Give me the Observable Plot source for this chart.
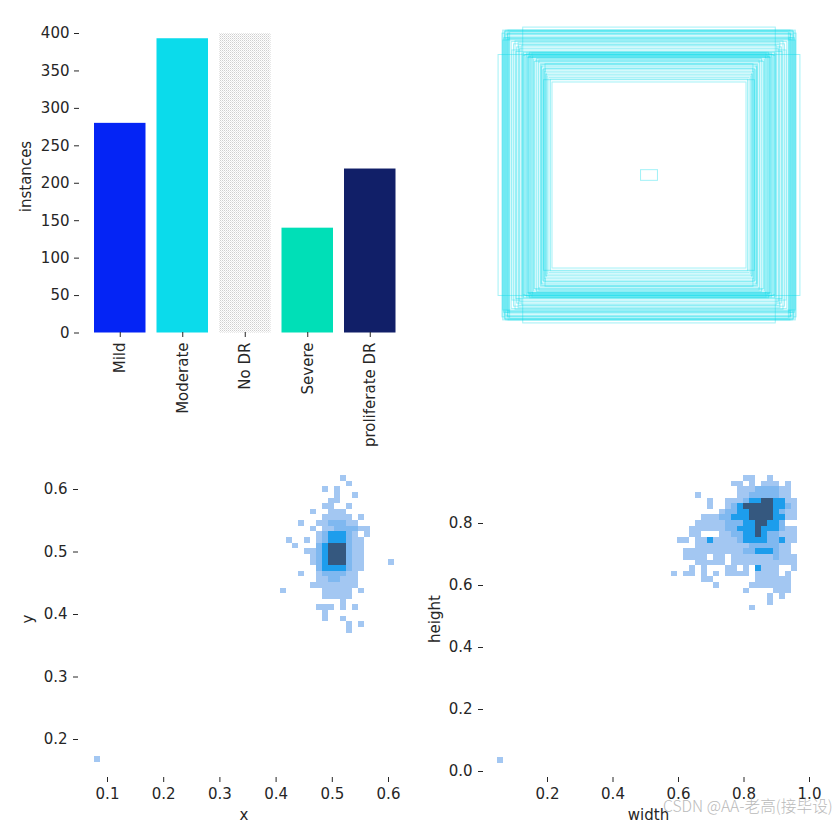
<!DOCTYPE html>
<html>
<head>
<meta charset="utf-8">
<script src="https://cdn.jsdelivr.net/npm/d3@7"></script>
<script src="https://cdn.jsdelivr.net/npm/@observablehq/plot@0.6"></script>
<style>
  html, body { margin: 0; padding: 0; background: #fff; }
  #page { position: relative; width: 840px; height: 822px; overflow: hidden; }
  #page > svg, #page > figure { position: absolute; margin: 0; }
  #mark { position: absolute; z-index: 5; left: 663px; top: 794px; font: 300 15.7px "Noto Sans CJK SC", "DejaVu Sans", sans-serif; color: #bababa; white-space: nowrap; }
</style>
</head>
<body>
<div id="page"><div id="mark">CSDN @AA-老高(接毕设)</div></div>
<script>
// ---- class counts
const classes = ["Mild", "Moderate", "No DR", "Severe", "proliferate DR"];
const instances = [280, 393, 400, 140, 219];
const classColors = ["#0424F5", "#0BDBEB", "url(#dots)", "#00DFB7", "#111F68"];
const countTicks = [0, 50, 100, 150, 200, 250, 300, 350, 400];

// ---- box sizes (fraction of the image), drawn centred
const boxWidths  = [.98,.82,
  .955,.95,.945,.94,.935,.93,.925,.92,.915,.91,.905,.95,.93,.92,.94,.91,
  .895,.88,.87,.86,.85,.84,.83,.89,.865,.845,
  .825,.82,.815,.81,.80,.795,.79,.785,.78,.775,.77,.765,.76,.755,.805,.785,
  .75,.74,.73,.72,.745,.715,
  .705,.70,.695,.69,.685,.68,.675,.67,.665,.66,.65,.64,.63,.70,.685,.675,
  .055];
const boxHeights = [.79,.97,
  .93,.95,.90,.94,.92,.95,.89,.93,.95,.91,.94,.885,.90,.925,.945,.895,
  .875,.86,.88,.84,.87,.83,.85,.82,.81,.855,
  .80,.785,.805,.79,.775,.80,.77,.795,.78,.805,.785,.77,.80,.78,.79,.775,
  .76,.75,.765,.74,.745,.755,
  .73,.71,.72,.69,.70,.68,.73,.66,.67,.65,.64,.63,.61,.725,.625,.70,
  .035];

// ---- x / y histogram: digit = shade level per 50-bin cell
const xyRows = [
  "..........1", "...........1", ".......1.1", ".........1..1", "........11",
  ".......11..1", ".....1..111", ".......11111.1", "...1..1122211", ".....1.11222211",
  "......1233321.1", ".1..1.12333211", "..1...23444211", "....1123444211", ".....123444211",
  ".....123444211....1", "......23333211", "...1..1222211", "......1122111", ".....11111111",
  "1......11111.1", ".......11111", "..........1", "......111.1.1", ".......1",
  ".......1..1", "...........1.1", "...........1"
];
const xyOutlier = [-31, 50];
const xyBins = {x0: 0.4078, dx: 0.01068, y0: 0.6224, dy: 0.009};
const xTicks = [0.1, 0.2, 0.3, 0.4, 0.5, 0.6];
const yTicks = [0.2, 0.3, 0.4, 0.5, 0.6];

// ---- width / height histogram
const whRows = [
  "............11..1", "..........11.1.111.1", "...........111222211", "....1......112222211",
  "......1..111233443311", "......1..123444443321", "........1223344443211", ".....1112233344443311",
  "....111112223344332", "...111111223334333211", "...11...1122334322111", ".11.11311112333322311",
  "....1111111112222211", "..111111111122333211", "..1111.11.11111112111", "....11111.11111111111",
  "...1.1...11.1.3111..1", "1.11.1.1.1111.1111.1", ".....11.......111111", ".......1.....1111111",
  "............1....111", "................1.1", "................1", ".............1"
];
const whOutlier = [-29, 50];
const whBins = {x0: 0.5777, dx: 0.01832, y0: 0.955, dy: 0.01819};
const widthTicks = [0.2, 0.4, 0.6, 0.8, 1.0];
const heightTicks = [0.0, 0.2, 0.4, 0.6, 0.8];

const levelDomain = [1, 2, 3, 4];
const levelColors = ["#a3c7f2", "#7fb8f0", "#1d9dec", "#35587f"];

function cells(rows, outlier, b) {
  const out = [];
  const push = (c, r, level) => out.push({
    x1: b.x0 + c * b.dx, x2: b.x0 + (c + 1) * b.dx,
    y1: b.y0 - r * b.dy, y2: b.y0 - (r + 1) * b.dy, level
  });
  rows.forEach((s, r) => [...s].forEach((ch, c) => { if (ch !== ".") push(c, r, +ch); }));
  push(outlier[0], outlier[1], 1);
  return out;
}

const page = document.getElementById("page");
const base = {fontFamily: "'DejaVu Sans', sans-serif", fontSize: "15px", color: "#262626", background: "transparent", overflow: "visible"};
function place(svg, left, top) { svg.style.left = left + "px"; svg.style.top = top + "px"; page.appendChild(svg); }

// ---- top left: bars
const bars = classes.map((c, i) => ({c, n: instances[i]}));
const barPlot = Plot.plot({
  width: 420, height: 450, marginLeft: 79, marginRight: 0, marginTop: 20, marginBottom: 118, style: base,
  x: {type: "band", domain: classes, range: [83, 406.5], padding: 0.176, round: false, label: null},
  y: {domain: [0, 400], range: [332.5, 33], label: null},
  color: {type: "ordinal", domain: classes, range: classColors},
  marks: [
    Plot.barY(bars, {x: "c", y: "n", fill: "c"}),
    Plot.axisY({ticks: countTicks, tickSize: 5, tickPadding: 5, label: "instances", labelAnchor: "center", labelArrow: "none", labelOffset: 59}),
    Plot.axisX({tickSize: 5, tickPadding: 5, tickRotate: -90, label: null})
  ]
});
const ns = "http://www.w3.org/2000/svg";
const defs = document.createElementNS(ns, "defs");
defs.innerHTML = '<pattern id="dots" width="2" height="2" patternUnits="userSpaceOnUse"><rect width="2" height="2" fill="#fff"/><rect width="1" height="1" fill="#cfcfcf"/><rect x="1" y="1" width="1" height="1" fill="#e6e6e6"/></pattern>';
barPlot.appendChild(defs);
place(barPlot, 0, 0);

// ---- top right: boxes
const boxes = boxWidths.map((w, i) => ({w, h: boxHeights[i]}));
place(Plot.plot({
  width: 420, height: 450, margin: 0, axis: null, style: base,
  x: {domain: [0, 1], range: [75, 383]},
  y: {domain: [0, 1], range: [327.5, 22.5]},
  marks: [
    Plot.rect(boxes, {x1: d => 0.5 - d.w / 2, x2: d => 0.5 + d.w / 2, y1: d => 0.5 - d.h / 2, y2: d => 0.5 + d.h / 2, stroke: "#0BDBEB", strokeWidth: 1, strokeOpacity: 0.38, fill: "none"})
  ]
}), 420, 0);

// ---- bottom left: x / y
const color = {type: "ordinal", domain: levelDomain, range: levelColors};
place(Plot.plot({
  width: 420, height: 372, marginLeft: 78, marginRight: 11, marginTop: 10, marginBottom: 45, style: base,
  x: {domain: [0.1, 0.6], range: [107, 388], label: null},
  y: {domain: [0.2, 0.6], range: [289, 39], label: null},
  color,
  marks: [
    Plot.rect(cells(xyRows, xyOutlier, xyBins), {x1: "x1", x2: "x2", y1: "y1", y2: "y2", fill: "level", shapeRendering: "crispEdges"}),
    Plot.axisX({ticks: xTicks, tickFormat: ".1f", tickSize: 5, tickPadding: 6, label: "x", labelAnchor: "center", labelArrow: "none", labelOffset: 42}),
    Plot.axisY({ticks: yTicks, tickFormat: ".1f", tickSize: 5, tickPadding: 6, label: "y", labelAnchor: "center", labelArrow: "none", labelOffset: 56}),
  ]
}), 0, 450);

// ---- bottom right: width / height
place(Plot.plot({
  width: 420, height: 372, marginLeft: 63, marginRight: 27, marginTop: 10, marginBottom: 45, style: base,
  x: {domain: [0.2, 1.0], range: [127, 389], label: null},
  y: {domain: [0, 0.8], range: [321, 73], label: null},
  color,
  marks: [
    Plot.rect(cells(whRows, whOutlier, whBins), {x1: "x1", x2: "x2", y1: "y1", y2: "y2", fill: "level", shapeRendering: "crispEdges"}),
    Plot.axisX({ticks: widthTicks, tickFormat: ".1f", tickSize: 5, tickPadding: 6, label: "width", labelAnchor: "center", labelArrow: "none", labelOffset: 42}),
    Plot.axisY({ticks: heightTicks, tickFormat: ".1f", tickSize: 5, tickPadding: 6, label: "height", labelAnchor: "center", labelArrow: "none", labelOffset: 54})
  ]
}), 420, 450);
</script>
</body>
</html>
